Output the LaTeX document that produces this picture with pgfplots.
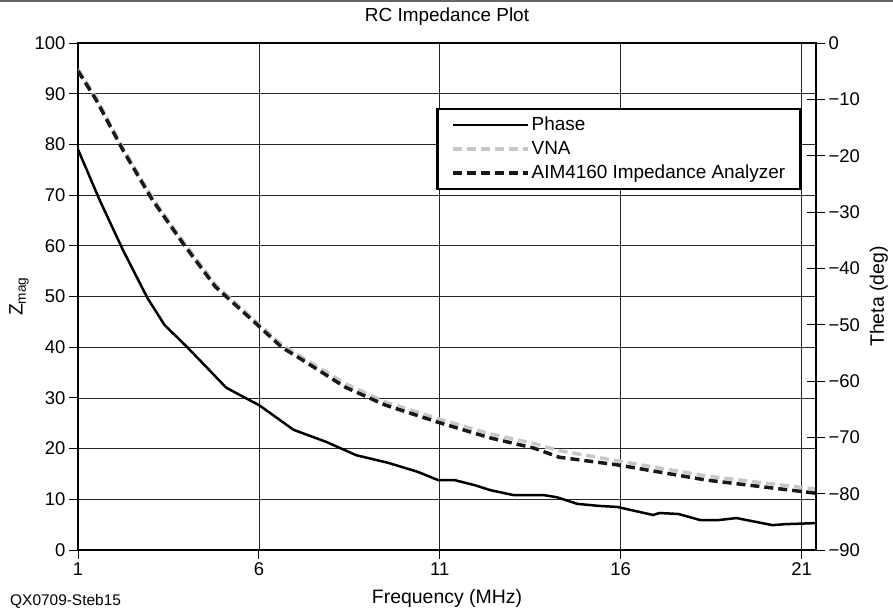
\documentclass[border=0pt]{standalone}
\usepackage{fontspec}
\setmainfont{Liberation Sans}
\usepackage{pgfplots}
\usepackage{pgfplotstable}
\pgfplotsset{compat=1.18}

\pgfplotstableread{
x y
1 79
1.6 69
2.24 59.2
2.92 49.7
3.39 44.4
4.02 40
5.1 32
5.73 29.6
6.0 28.6
6.96 23.7
7.87 21.3
8.69 18.7
9.57 17.2
10.4 15.4
10.95 13.8
11.4 13.8
11.96 12.8
12.4 11.8
13.06 10.8
13.9 10.8
14.24 10.4
14.8 9.1
15.4 8.7
15.9 8.5
16.9 6.9
17.07 7.3
17.6 7.1
18.2 5.9
18.7 5.9
19.2 6.3
20.2 4.9
20.56 5.1
21.4 5.3
}\phase

\pgfplotstableread{
x y
1 94.8
1.5 89.2
2.24 79.3
3.06 69.4
3.9 60.9
4.8 52.3
5.9 45.2
6.63 40.5
7.29 37.6
8.39 32.8
9.49 29.2
10.95 25.9
12.4 22.9
13.6 21.0
14.3 19.6
15.9 17.6
18.36 14.6
21.4 12.0
}\vna

\pgfplotstableread{
x y
1 94.5
1.5 88.8
2.24 78.9
3.06 69
3.9 60.5
4.8 51.9
5.9 44.8
6.63 40
7.29 37.1
8.39 32.1
9.49 28.6
10.95 25.2
12.4 22.1
13.6 20.1
14.3 18.3
15.9 16.8
18.36 13.8
21.4 11.2
}\aim

\begin{document}
\begin{tikzpicture}
\path[use as bounding box] (0,0) rectangle (893bp,609bp);
\draw[black!60, line width=1.5bp] (0,608bp) -- (893bp,608bp);
\node[anchor=west, font=\fontsize{15.5}{18}\selectfont, inner sep=0pt] at (10bp,8bp) {QX0709-Steb15};

\begin{axis}[
  at={(78bp,59bp)}, anchor=south west,
  scale only axis, width=738bp, height=507bp,
  font=\fontsize{19.5}{23}\selectfont,
  tick label style={font=\fontsize{18.5}{21}\selectfont},
  /pgf/number format/assume math mode=true,
  xmin=1, xmax=21.4, ymin=0, ymax=100,
  xtick={1,6,11,16,21},
  ytick={0,10,...,100},
  xtick pos=bottom, ytick pos=left,
  tick align=outside,
  major tick length=9bp,
  every tick/.style={black, line width=0.8bp},
  axis line style={line width=2.5bp, black},
  grid=major,
  major grid style={black!85, line width=0.7bp},
  clip mode=individual,
  xlabel={Frequency (MHz)},
  xlabel style={at={(axis description cs:0.5,-0.095)}, anchor=center, inner sep=0pt},
  ylabel={Z\textsubscript{mag}},
  ylabel style={at={(axis description cs:-0.08,0.5)}, anchor=center, inner sep=0pt},
  legend style={at={(axis description cs:0.981,0.872)}, anchor=north east,
    draw=black, line width=2.5bp, inner xsep=14bp, inner ysep=6bp,
    font=\fontsize{19}{22}\selectfont, row sep=4bp,
    nodes={inner sep=1.5bp, text height=13.5bp, text depth=3.5bp}},
  legend cell align=left,
  legend image code/.code={\draw[#1] (0bp,0bp) -- (75bp,0bp);},
]
\addplot[black, line width=2.5bp] table {\phase};
\addlegendentry{Phase}
\addplot[black!22, line width=3.5bp, dash pattern=on 9bp off 5bp] table {\vna};
\addlegendentry{VNA}
\addplot[black!90, line width=3.5bp, dash pattern=on 9bp off 5bp] table {\aim};
\addlegendentry{AIM4160 Impedance Analyzer}
\node[anchor=center, inner sep=0pt, font=\fontsize{19}{22}\selectfont] at (axis description cs:0.5,1.053) {RC Impedance Plot};
\end{axis}

\begin{axis}[
  at={(78bp,59bp)}, anchor=south west,
  scale only axis, width=738bp, height=507bp,
  font=\fontsize{19.5}{23}\selectfont,
  tick label style={font=\fontsize{18.5}{21}\selectfont},
  xmin=1, xmax=21.4, ymin=-90, ymax=0,
  hide x axis,
  axis y line*=right,
  axis line style={-, line width=2.5bp, black},
  ytick={-90,-80,...,0},
  yticklabels={−90,−80,−70,−60,−50,−40,−30,−20,−10,0},
  tick align=center,
  major tick length=18bp,
  every tick/.style={black, line width=0.8bp},
  ylabel={Theta (deg)},
  ylabel style={at={(axis description cs:1.085,0.5)}, anchor=center, inner sep=0pt},
]
\end{axis}
\end{tikzpicture}
\end{document}
